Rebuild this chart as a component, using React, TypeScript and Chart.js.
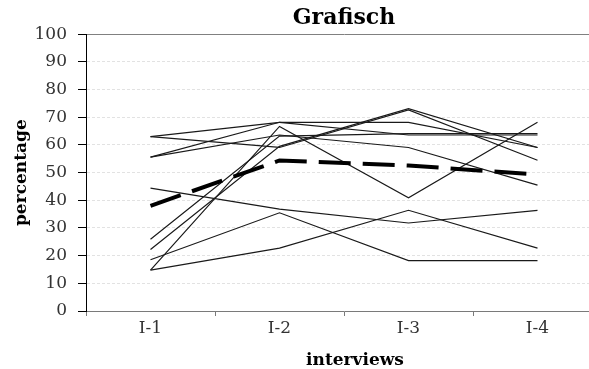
import React, { useEffect, useRef } from 'react';
import { Chart, registerables } from 'chart.js';

Chart.register(...registerables);

const TITLE = 'Grafisch';
const X_TITLE = 'interviews';
const Y_TITLE = 'percentage';
const CATEGORIES = ['I-1', 'I-2', 'I-3', 'I-4'];

// individual respondents (percentage per interview)
const P1 = [63.0, 68.2, 68.2, 59.1];
const P2 = [63.0, 59.1, 72.7, 54.5];
const P3 = [55.6, 68.2, 63.6, 63.6];
const P4 = [55.6, 63.6, 59.1, 45.5];
const P5 = [25.9, 63.2, 64.1, 64.1];
const P6 = [22.2, 59.5, 73.1, 59.1];
const P7 = [14.8, 66.7, 40.9, 68.2];
const P8 = [44.4, 36.8, 31.8, 36.4];
const P9 = [18.5, 35.5, 18.2, 18.2];
const P10 = [14.8, 22.7, 36.4, 22.7];
// average (dashed)
const MEAN = [38.0, 54.4, 52.6, 49.3];

const Y_MIN = 0;
const Y_MAX = 100;
const Y_STEP = 10;

const SERIES = [P1, P2, P3, P4, P5, P6, P7, P8, P9, P10];

const xTitlePlugin = {
  id: 'xTitlePlugin',
  afterDraw(chart: any) {
    const { ctx, chartArea } = chart;
    ctx.save();
    ctx.font = 'bold 17px "DejaVu Serif"';
    ctx.fillStyle = '#000';
    ctx.textAlign = 'center';
    ctx.textBaseline = 'alphabetic';
    ctx.fillText(X_TITLE, (chartArea.left + chartArea.right) / 2 + 11, 365);
    ctx.restore();
  },
};

export default function App() {
  const ref = useRef<HTMLCanvasElement | null>(null);

  useEffect(() => {
    if (!ref.current) return;
    const datasets: any[] = [
      {
        label: 'gemiddelde',
        data: MEAN,
        borderColor: '#000',
        borderWidth: 4,
        borderDash: [32, 12],
        pointRadius: 0,
        fill: false,
        tension: 0,
      },
      ...SERIES.map((s, i) => ({
        label: 'R' + (i + 1),
        data: s,
        borderColor: '#1a1a1a',
        borderWidth: 1.2,
        pointRadius: 0,
        fill: false,
        tension: 0,
      })),
    ];
    const chart = new Chart(ref.current, {
      type: 'line',
      data: { labels: CATEGORIES, datasets },
      plugins: [xTitlePlugin],
      options: {
        animation: false,
        responsive: false,
        layout: { padding: 0 },
        plugins: {
          legend: { display: false },
          tooltip: { enabled: false },
          title: {
            display: true,
            text: TITLE,
            fullSize: false,
            color: '#000',
            font: { family: 'DejaVu Serif', size: 22, weight: 'bold' },
            padding: { top: 5.2, bottom: 2.7 },
          },
        },
        scales: {
          x: {
            type: 'category',
            offset: true,
            afterFit: (s: any) => {
              s.height = 58;
            },
            grid: {
              offset: true,
              drawOnChartArea: false,
              tickLength: 5,
              tickColor: '#7a7a7a',
            },
            border: { color: '#7a7a7a', width: 1 },
            ticks: {
              color: '#333',
              padding: 2,
              font: { family: 'DejaVu Serif', size: 17 },
            },
          },
          y: {
            min: Y_MIN,
            max: Y_MAX,
            afterFit: (s: any) => {
              s.width = 86;
            },
            ticks: {
              stepSize: Y_STEP,
              color: '#333',
              padding: 11,
              font: { family: 'DejaVu Serif', size: 17 },
            },
            grid: {
              tickLength: 8,
              tickColor: '#000',
              color: (c: any) => (c.tick && c.tick.value === Y_MAX ? '#808080' : '#e2e2e2'),
            },
            border: {
              color: '#000',
              width: 1,
              dash: (c: any) => (c.tick && c.tick.value !== Y_MAX ? [3, 2] : []),
            },
            title: {
              display: true,
              text: Y_TITLE,
              color: '#000',
              font: { family: 'DejaVu Serif', size: 17, weight: 'bold' },
              padding: { top: 11, bottom: 0 },
            },
          },
        },
      } as any,
    });
    return () => chart.destroy();
  }, []);

  return (
    <div
      style={{
        position: 'fixed',
        left: 0,
        top: 0,
        width: 589,
        height: 369,
        overflow: 'hidden',
        background: '#fff',
      }}
    >
      <canvas ref={ref} width={602} height={369} style={{ display: 'block' }} />
    </div>
  );
}
